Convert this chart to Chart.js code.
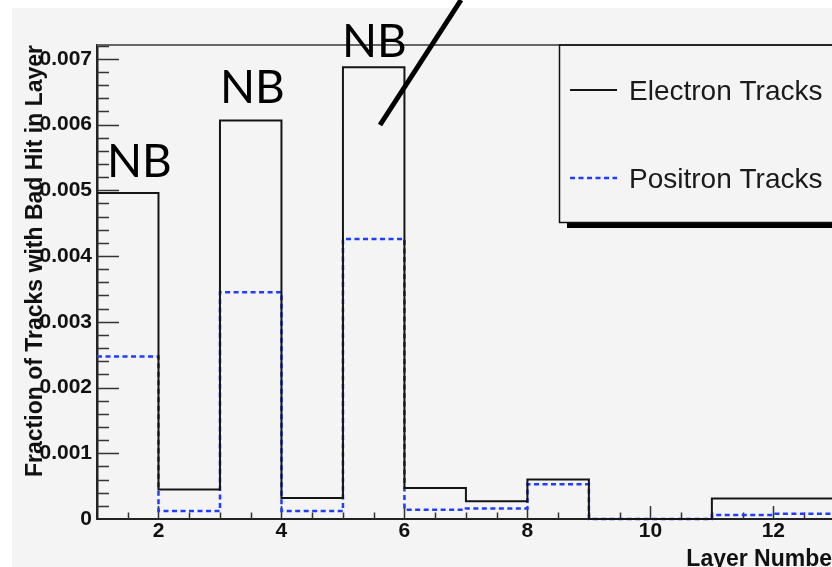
<!DOCTYPE html>
<html>
<head>
<meta charset="utf-8">
<script src="https://cdn.jsdelivr.net/npm/chart.js@4.4.1/dist/chart.umd.min.js"></script>
<style>
  html, body { margin: 0; padding: 0; background: #fff; }
  #wrap { width: 832px; height: 567px; overflow: hidden; }
  canvas { display: block; }
</style>
</head>
<body>
<div id="wrap"><canvas id="layers" width="870" height="600"></canvas></div>
<script>
// bin edges (layer number) and fraction of tracks per bin
var layerEdges = [1, 2, 3, 4, 5, 6, 7, 8, 9, 10, 11, 12, 13];
var electronFrac = [0.00496, 0.00045, 0.00606, 0.00032, 0.00687, 0.00047, 0.00027, 0.00060, 0, 0, 0.00031, 0.00031];
var positronFrac = [0.00247, 0.00012, 0.00345, 0.00012, 0.00426, 0.00014, 0.00016, 0.00053, 0, 0, 0.00006, 0.00008];
var seriesLabels = ["Electron Tracks", "Positron Tracks"];
var xTickLabels = ["2", "4", "6", "8", "10", "12"];
var yTickLabels = ["0", "0.001", "0.002", "0.003", "0.004", "0.005", "0.006", "0.007"];
var noteText = "NB";

var BG = "#f4f4f4";

// histogram outline: one point per left bin edge, last edge repeats the last bin
function histPoints(values) {
  var pts = layerEdges.map(function (x, i) {
    return { x: x, y: i < values.length ? values[i] : values[values.length - 1] };
  });
  pts.push({ x: layerEdges[layerEdges.length - 1], y: 0 });
  return pts;
}

var rootFrame = {
  id: "rootFrame",
  beforeDraw: function (chart) {
    var ctx = chart.ctx;
    ctx.save();
    ctx.fillStyle = "#fff";
    ctx.fillRect(0, 0, chart.width, chart.height);
    ctx.fillStyle = BG;
    ctx.fillRect(12, 8, chart.width - 12, chart.height - 8);
    ctx.restore();
  },
  beforeDatasetsDraw: function (chart) {
    var ctx = chart.ctx, a = chart.chartArea;
    var xs = chart.scales.x, ys = chart.scales.y;
    ctx.save();
    // top of the frame
    ctx.strokeStyle = "#666";
    ctx.lineWidth = 2;
    ctx.beginPath();
    ctx.moveTo(a.left, a.top);
    ctx.lineTo(a.right, a.top);
    ctx.stroke();
    // ROOT style inward ticks
    ctx.strokeStyle = "#333";
    ctx.lineWidth = 1.5;
    ctx.beginPath();
    for (var k = 1; k <= 36; k++) {
      var py = Math.round(ys.getPixelForValue(k * 0.0002)) + 0.5;
      var ly = k % 5 === 0 ? 22 : 12;
      ctx.moveTo(a.left, py);
      ctx.lineTo(a.left + ly, py);
    }
    for (var h = 3; h <= 26; h++) {
      var v = h / 2;
      var px = Math.round(xs.getPixelForValue(v)) + 0.5;
      var lx = v % 2 === 0 ? 13 : 6.5;
      ctx.moveTo(px, a.bottom);
      ctx.lineTo(px, a.bottom - lx);
    }
    ctx.stroke();
    ctx.restore();
  },
  afterDraw: function (chart) {
    var ctx = chart.ctx;
    ctx.save();
    // legend box with ROOT shadow
    ctx.fillStyle = "#000";
    ctx.fillRect(567, 223, chart.width - 567, 5);
    ctx.strokeStyle = "#111";
    ctx.lineWidth = 1.5;
    ctx.strokeRect(559.5, 45, chart.width, 177.5);
    var rows = [90, 178];
    ctx.font = "28px 'Liberation Sans', Arial, sans-serif";
    ctx.textBaseline = "middle";
    chart.data.datasets.forEach(function (ds, i) {
      ctx.strokeStyle = ds.borderColor;
      ctx.lineWidth = ds.borderWidth;
      ctx.setLineDash(ds.borderDash || []);
      ctx.beginPath();
      ctx.moveTo(570, rows[i]);
      ctx.lineTo(617, rows[i]);
      ctx.stroke();
      ctx.setLineDash([]);
      ctx.fillStyle = "#1a1a1a";
      ctx.fillText(ds.label, 629, rows[i] + 2);
    });
    // hand-written notes
    ctx.fillStyle = "#000";
    ctx.font = "46px Lato, 'Open Sans', sans-serif";
    ctx.textBaseline = "alphabetic";
    ctx.fillText(noteText, 107, 177);
    ctx.fillText(noteText, 220, 103);
    ctx.fillText(noteText, 342, 57);
    ctx.strokeStyle = "#000";
    ctx.lineWidth = 5;
    ctx.beginPath();
    ctx.moveTo(380, 125);
    ctx.lineTo(461, 0);
    ctx.stroke();
    ctx.restore();
  }
};

new Chart(document.getElementById("layers").getContext("2d"), {
  type: "line",
  data: {
    datasets: [
      {
        label: seriesLabels[0],
        data: histPoints(electronFrac),
        borderColor: "#151515",
        borderWidth: 2,
        stepped: true,
        pointRadius: 0,
        fill: false,
        clip: false,
      },
      {
        label: seriesLabels[1],
        data: histPoints(positronFrac),
        borderColor: "#1f3cff",
        borderWidth: 2.5,
        borderDash: [5, 3.5],
        stepped: true,
        pointRadius: 0,
        fill: false,
        clip: false,
      },
    ],
  },
  options: {
    responsive: false,
    animation: false,
    layout: { padding: { left: 0, top: 45, right: 29, bottom: 0 } },
    plugins: { legend: { display: false }, tooltip: { enabled: false } },
    scales: {
      x: {
        type: "linear",
        min: 1,
        max: 13.1,
        afterFit: function (s) { s.height = 81; },
        grid: { display: false, drawTicks: false },
        border: { display: true, color: "#222", width: 2 },
        ticks: {
          stepSize: 1,
          includeBounds: false,
          autoSkip: false,
          maxRotation: 0,
          padding: 0,
          color: "#111",
          font: { family: "'Liberation Sans', Arial, sans-serif", size: 21, weight: "bold" },
          callback: function (v) {
            return xTickLabels.indexOf(String(v)) >= 0 ? String(v) : "";
          },
        },
        title: {
          display: true,
          text: "Layer Number",
          align: "end",
          color: "#111",
          padding: { top: 0, bottom: 27 },
          font: { family: "'Liberation Sans', Arial, sans-serif", size: 23, weight: "bold" },
        },
      },
      y: {
        min: 0,
        max: 0.00721,
        afterFit: function (s) { s.width = 97; },
        grid: { display: false, drawTicks: false },
        border: { display: true, color: "#222", width: 2.5 },
        ticks: {
          stepSize: 0.001,
          includeBounds: false,
          padding: 5,
          color: "#111",
          font: { family: "'Liberation Sans', Arial, sans-serif", size: 21, weight: "bold" },
          callback: function (v) {
            return yTickLabels[Math.round(v * 1000)] || "";
          },
        },
        title: {
          display: true,
          text: "Fraction of Tracks with Bad Hit in Layer",
          align: "end",
          color: "#111",
          padding: { top: 22, bottom: 0 },
          font: { family: "'Liberation Sans', Arial, sans-serif", size: 23, weight: "bold" },
        },
      },
    },
  },
  plugins: [rootFrame],
});
</script>
</body>
</html>
